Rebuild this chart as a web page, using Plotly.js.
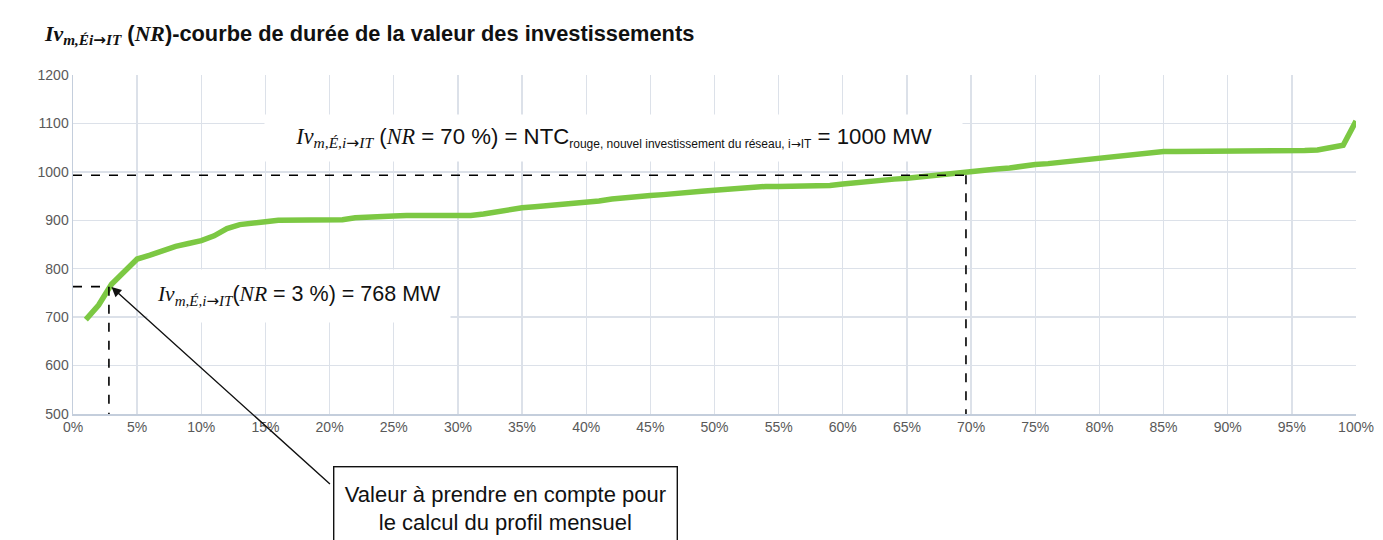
<!DOCTYPE html>
<html>
<head>
<meta charset="utf-8">
<script src="https://cdn.plot.ly/plotly-3.0.1.min.js"></script>
<style>html,body{margin:0;padding:0;background:#fff;}#chart{width:1383px;height:540px;}</style>
</head>
<body>
<div id="chart"></div>
<script>
// Non-respect percentage (x, %) and investment value (y, MW)
const nrPercent = [];
for (let i = 1; i <= 100; i++) nrPercent.push(i);
const investValue = [
  695, 725, 768, 795, 820, 828, 838, 846, 852, 858,
  868, 883, 891, 895, 897, 900, 900, 901, 901, 901,
  901, 905, 907, 907, 909, 910, 910, 910, 910, 910,
  910, 913, 918, 922, 926, 928, 930, 932, 935, 937,
  940, 944, 947, 950, 951, 953, 956, 958, 960, 962,
  964, 966, 969, 970, 970, 970, 970, 970, 972, 975,
  978, 979, 982, 985, 987, 990, 992, 995, 997, 1000,
  1004, 1006, 1008, 1012, 1015, 1017, 1020, 1021, 1024, 1027,
  1030, 1033, 1036, 1040, 1042, 1042, 1042, 1042, 1042, 1042,
  1042, 1042, 1042, 1043, 1044, 1044, 1045, 1050, 1055, 1105
];
// Reference points (NR %, MW)
const refNTC = [69.6, 993];
const refMonthly = [2.8, 763];
const yTicks = [500, 600, 700, 800, 900, 1000, 1100, 1200];
const xTicks = [0,5,10,15,20,25,30,35,40,45,50,55,60,65,70,75,80,85,90,95,100];
const xTickLabels = xTicks.map(v => v + '%');

const TNR = "font-family:'Liberation Serif','Times New Roman',serif";
const ARR = `<span style="font-family:'DejaVu Sans';font-style:normal">→</span>`;
const ivText = `<span style="${TNR}"><i>Iv</i></span><sub><span style="${TNR}"><i>m,É,i${ARR}IT</i></span></sub>`;

const dash = {color: '#000', width: 1.6, dash: 'dash'};
const data = [{
  x: nrPercent, y: investValue, type: 'scatter', mode: 'lines',
  line: {color: '#7cc843', width: 5.5}, hoverinfo: 'skip'
}];

const layout = {
  width: 1383, height: 540,
  margin: {l: 73, r: 27, t: 75, b: 126},
  paper_bgcolor: '#fff', plot_bgcolor: '#fff',
  showlegend: false,
  font: {family: "'Liberation Sans', Arial, sans-serif", color: '#595959', size: 14},
  title: {
    text: `<b><span style="${TNR}"><i>Iv</i></span><sub><span style="${TNR}"><i>m,Éi${ARR}IT</i></span></sub> (<span style="${TNR}"><i>NR</i></span>)-courbe de durée de la valeur des investissements</b>`,
    x: 45/1383, xanchor: 'left', xref: 'container', y: 1 - 33/540, yanchor: 'middle', yref: 'container',
    font: {size: 21.8, color: '#111', family: "'Liberation Sans', Arial, sans-serif"}
  },
  xaxis: {
    range: [0, 100], tickvals: xTicks, ticktext: xTickLabels,
    showgrid: true, gridcolor: '#dce1e9', gridwidth: 1.4,
    showline: true, linecolor: '#c4cedc', linewidth: 1.5,
    ticks: '', zeroline: false, tickfont: {size: 14, color: '#595959'}
  },
  yaxis: {
    range: [500, 1200], tickvals: yTicks,
    showgrid: true, gridcolor: '#dce1e9', gridwidth: 1.4,
    showline: true, linecolor: '#c4cedc', linewidth: 1.5,
    ticks: '', zeroline: false, tickfont: {size: 14, color: '#595959'}
  },
  shapes: [
    {type: 'line', xref: 'x', yref: 'y', x0: 0, x1: refNTC[0], y0: refNTC[1], y1: refNTC[1], line: dash},
    {type: 'line', xref: 'x', yref: 'y', x0: refNTC[0], x1: refNTC[0], y0: refNTC[1], y1: 500, line: dash},
    {type: 'line', xref: 'x', yref: 'y', x0: 0, x1: refMonthly[0], y0: refMonthly[1], y1: refMonthly[1], line: dash},
    {type: 'line', xref: 'x', yref: 'y', x0: refMonthly[0], x1: refMonthly[0], y0: refMonthly[1], y1: 500, line: dash}
  ],
  annotations: [
    {
      xref: 'paper', yref: 'paper', x: (613-73)/1283, y: 1 - (138-75)/339,
      xanchor: 'center', yanchor: 'middle', showarrow: false,
      text: `${ivText} (<span style="${TNR}"><i>NR</i></span> = 70 %) = NTC<sub><span style="font-size:12px">rouge, nouvel investissement du réseau, i${ARR}IT</span></sub> = 1000 MW`,
      font: {size: 22.2, color: '#111'}, bgcolor: '#fff', width: 695, height: 44
    },
    {
      xref: 'paper', yref: 'paper', x: (299-73)/1283, y: 1 - (296-75)/339,
      xanchor: 'center', yanchor: 'middle', showarrow: false,
      text: `${ivText}(<span style="${TNR}"><i>NR</i></span> = 3 %) = 768 MW`,
      font: {size: 21.5, color: '#111'}, bgcolor: '#fff', width: 300, height: 50
    },
    {
      xref: 'x', yref: 'y', x: 3.0, y: 762, axref: 'x', ayref: 'y', ax: 20.3, ay: 349,
      text: ' ', showarrow: true, arrowhead: 2, arrowsize: 1.4, arrowwidth: 1.4, arrowcolor: '#111',
      standoff: 0, startstandoff: 0
    },
    {
      xref: 'paper', yref: 'paper', x: (333-73)/1283, y: 1 - (466-75)/339,
      xanchor: 'left', yanchor: 'top', showarrow: false, align: 'center', valign: 'middle',
      text: 'Valeur à prendre en compte pour<br>le calcul du profil mensuel',
      font: {size: 22, color: '#111'}, bgcolor: '#fff', bordercolor: '#111', borderwidth: 1.4,
      width: 340, height: 80, borderpad: 1
    }
  ]
};

Plotly.newPlot('chart', data, layout, {staticPlot: true, displayModeBar: false});
</script>
</body>
</html>
